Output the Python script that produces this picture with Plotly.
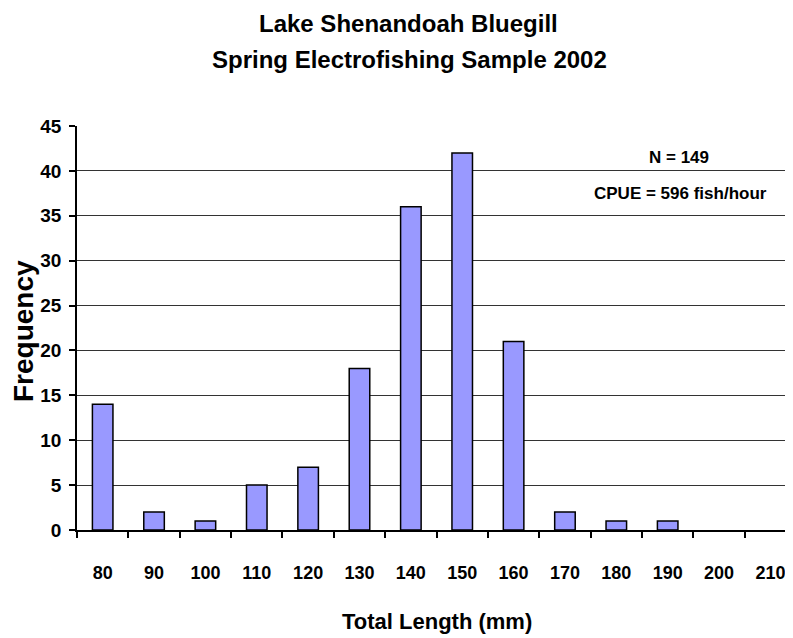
import plotly.graph_objects as go

lengths = ["80", "90", "100", "110", "120", "130", "140", "150", "160", "170", "180", "190", "200", "210"]
frequency = [14, 2, 1, 5, 7, 18, 36, 42, 21, 2, 1, 1, 0, 0]
title_lines = ["Lake Shenandoah Bluegill", "Spring Electrofishing Sample 2002"]
notes = ["N = 149", "CPUE = 596 fish/hour"]

OFF = 8  # default page margin of the html body
W, H = 793 - OFF, 638 - OFF
L, R, T, B = 77 - OFF, 0, 126 - OFF, 108
FONT = "Liberation Sans, Arial, sans-serif"


def px(x):
    return (x - OFF - L) / (W - L - R)


def py(y):
    return (H - B - (y - OFF)) / (H - T - B)


fig = go.Figure(go.Bar(
    x=lengths, y=frequency, width=0.4,
    marker=dict(color="#9999FF",
                line=dict(color="#000000", width=[1.5 if v > 0 else 0 for v in frequency])),
))

ann = []
ann.append(dict(text=title_lines[0], x=px(408), y=py(23), font=dict(size=24)))
ann.append(dict(text=title_lines[1], x=px(409), y=py(59), font=dict(size=24)))
ann.append(dict(text=notes[0], x=px(679), y=py(158), font=dict(size=17)))
ann.append(dict(text=notes[1], x=px(680), y=py(193), font=dict(size=17)))
ann.append(dict(text="Total Length (mm)", x=px(437), y=py(621), font=dict(size=22)))
ann.append(dict(text="Frequency", x=px(23), y=py(331), font=dict(size=28), textangle=-90))
for a in ann:
    a.update(xref="paper", yref="paper", showarrow=False, xanchor="center", yanchor="middle")
    a["font"].update(family=FONT, color="#000000", weight="bold")

fig.update_layout(
    width=W, height=H,
    margin=dict(l=L, r=R, t=T, b=B, autoexpand=False),
    paper_bgcolor="white", plot_bgcolor="white",
    showlegend=False,
    annotations=ann,
    font=dict(family=FONT, color="#000000"),
)
fig.update_xaxes(
    type="category", range=[-0.5, 13.44],
    showline=True, linecolor="#000000", linewidth=1.5,
    ticks="outside", tickson="boundaries", ticklen=6, tickcolor="#000000", tickwidth=1.5,
    tickfont=dict(family=FONT, size=18, color="#000000", weight="bold"),
    ticklabelstandoff=26,
    showgrid=False, zeroline=False, automargin=False,
)
fig.update_yaxes(
    range=[0, 45], dtick=5, tick0=0,
    showline=True, linecolor="#000000", linewidth=1.5,
    ticks="outside", ticklen=6, tickcolor="#000000", tickwidth=1.5,
    tickfont=dict(family=FONT, size=19, color="#000000", weight="bold"),
    ticklabelstandoff=4,
    showgrid=True, gridcolor="#333333", gridwidth=1, zeroline=False, automargin=False,
)

fig.write_html("out.html")
